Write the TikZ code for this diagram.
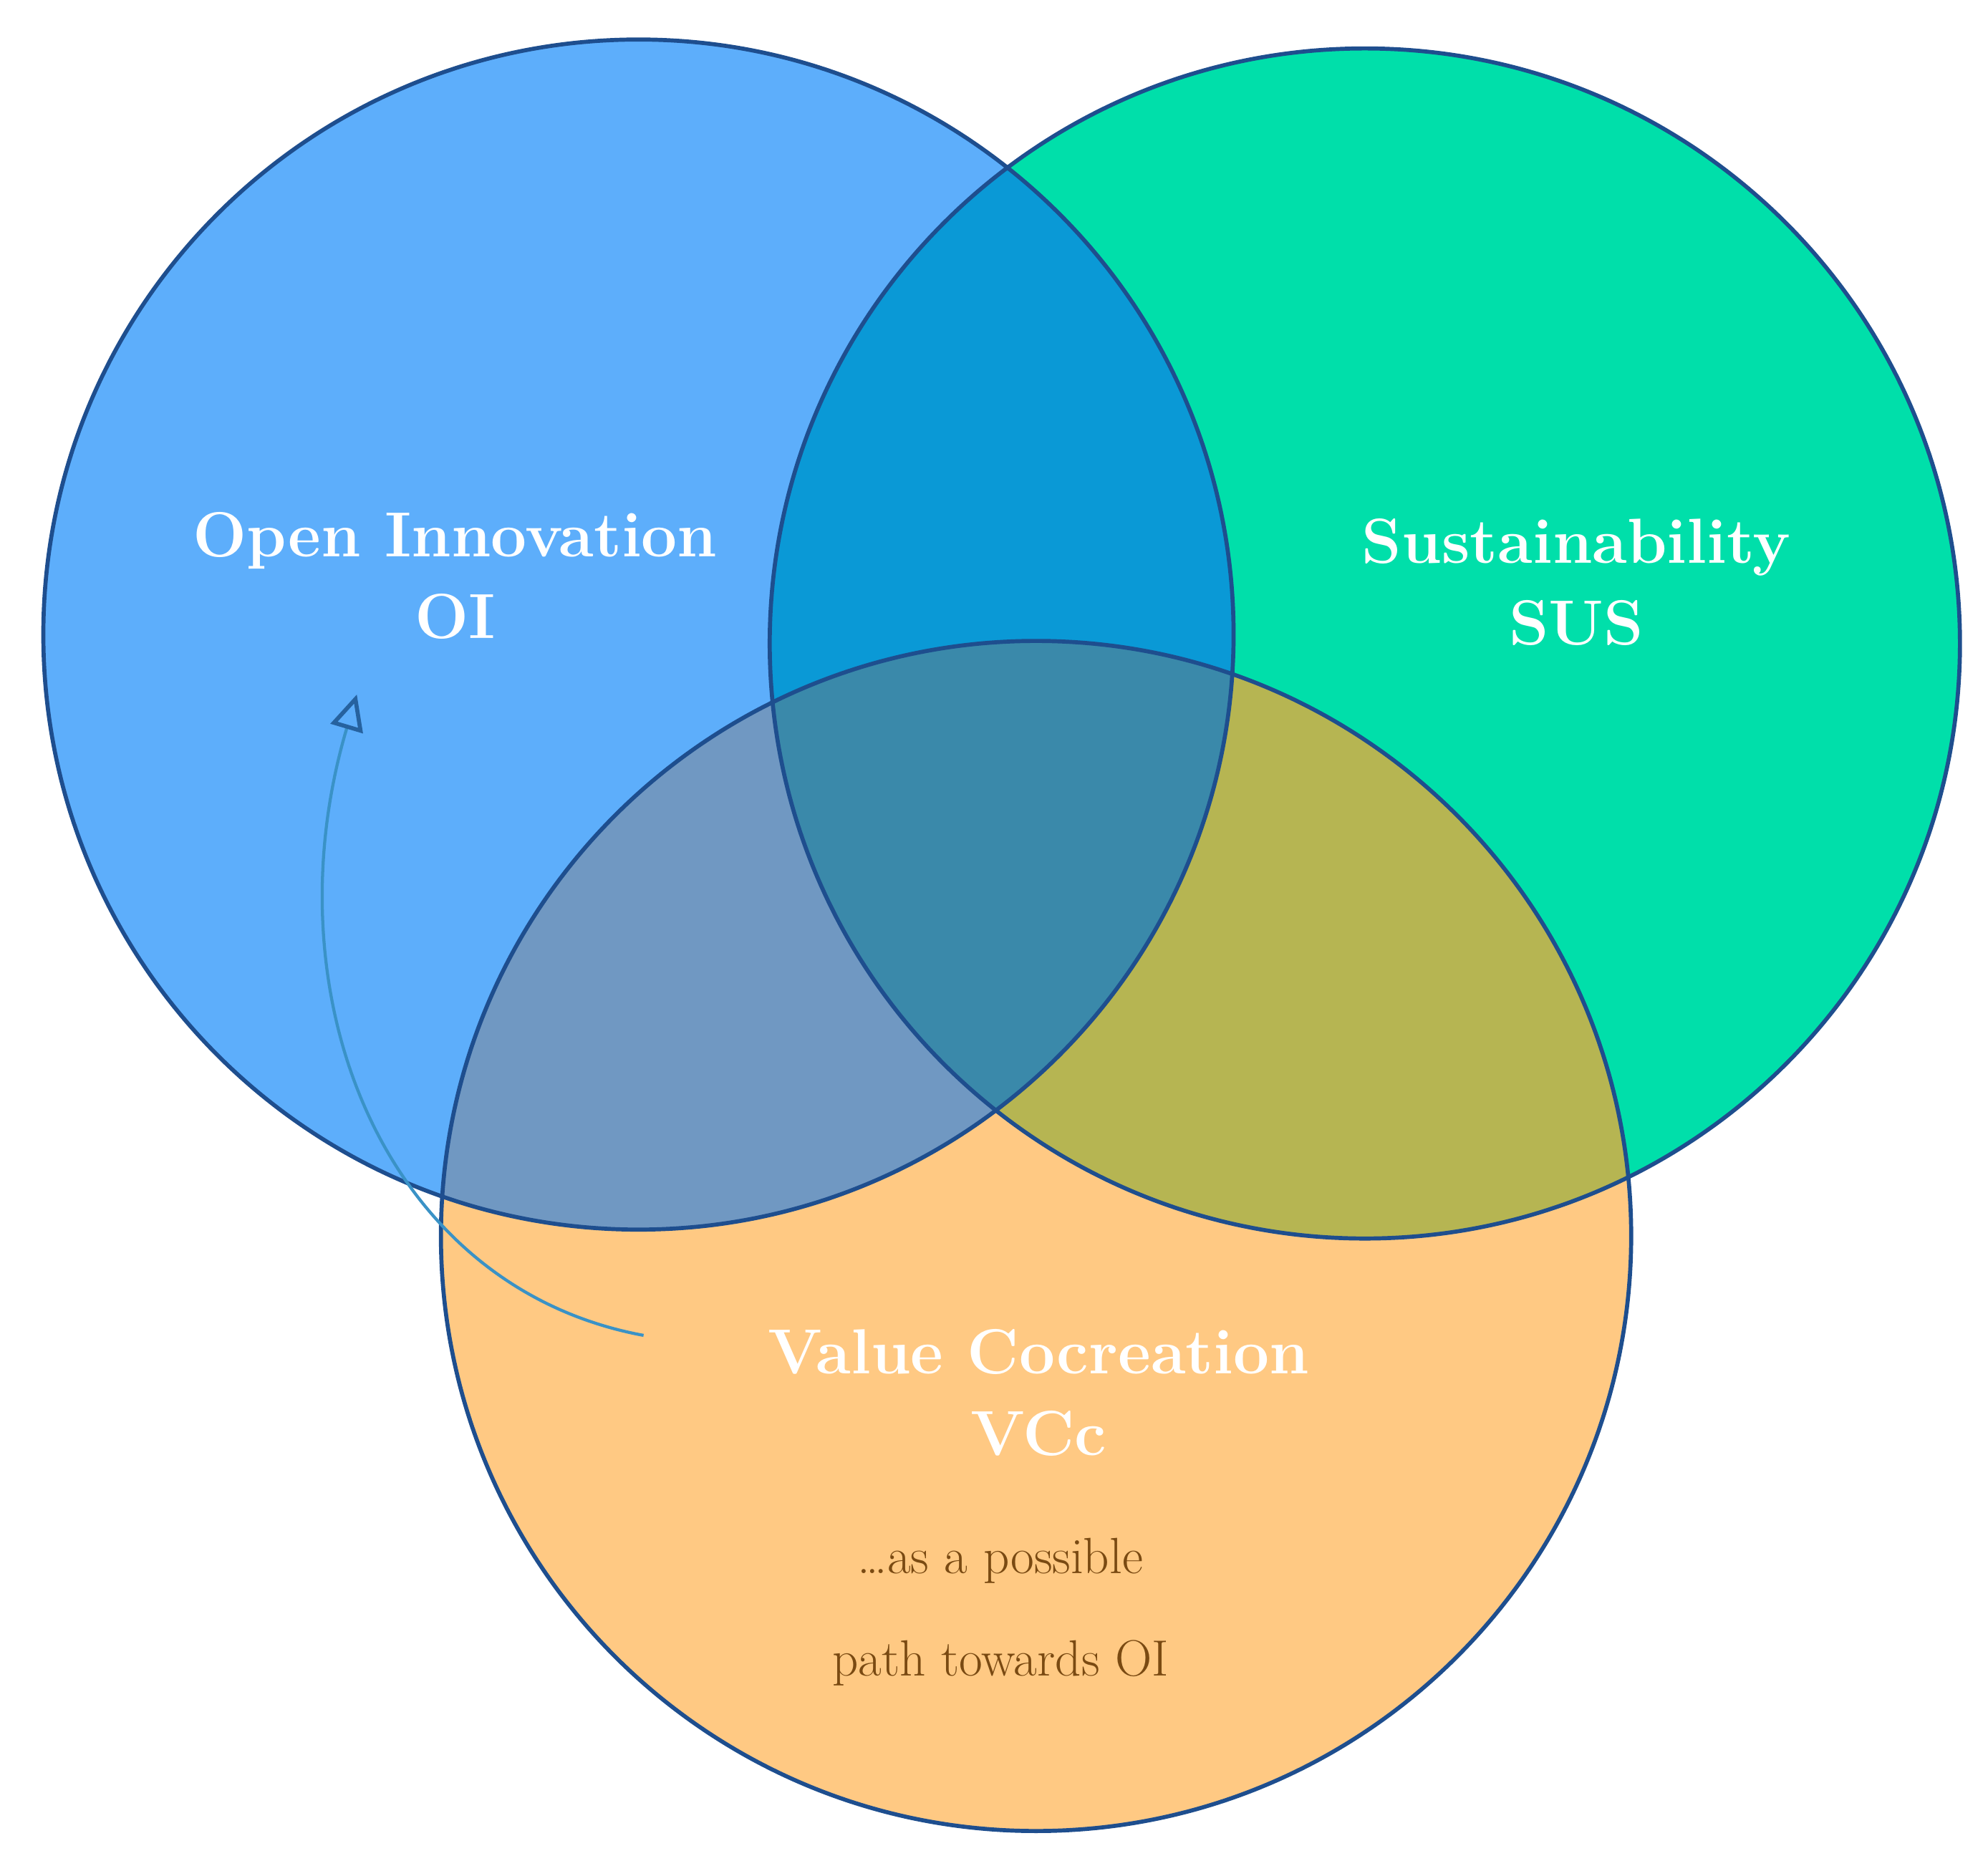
\documentclass[tikz,border=0pt]{standalone}
\usetikzlibrary{arrows.meta}
\definecolor{oiC}{HTML}{5DAEFB}
\definecolor{susC}{HTML}{00DFAA}
\definecolor{vcC}{HTML}{FFC983}
\definecolor{oisus}{HTML}{0A99D6}
\definecolor{oivc}{HTML}{7098C2}
\definecolor{susvc}{HTML}{B6B552}
\definecolor{allC}{HTML}{3A89AA}
\definecolor{edgeC}{HTML}{1E4E8E}
\definecolor{brownC}{HTML}{7A4A12}
\definecolor{arrC}{HTML}{3A92C6}
\tikzset{ring/.style={draw=edgeC,line width=1.6pt},
 title/.style={text=white,font=\fontsize{25}{32}\selectfont\bfseries,align=center},
 sub/.style={text=brownC,font=\fontsize{20}{40}\selectfont,align=center}}
\begin{document}
\begin{tikzpicture}[x=0.5pt,y=-0.5pt]
\useasboundingbox (0,0) rectangle (1560,1464);
\def\ra{467}
\coordinate (A) at (501,498);
\coordinate (B) at (1071,505);
\coordinate (C) at (813,970);
\fill[oiC] (A) circle (\ra);
\fill[susC] (B) circle (\ra);
\fill[vcC] (C) circle (\ra);
\begin{scope}\clip (A) circle (\ra); \fill[oisus] (B) circle (\ra); \fill[oivc] (C) circle (\ra);\end{scope}
\begin{scope}\clip (B) circle (\ra); \fill[susvc] (C) circle (\ra);\end{scope}
\begin{scope}\clip (A) circle (\ra); \clip (B) circle (\ra); \fill[allC] (C) circle (\ra);\end{scope}
\draw[ring] (A) circle (\ra);
\draw[ring] (B) circle (\ra);
\draw[ring] (C) circle (\ra);
\node[title] (oi) at (357,452) {Open Innovation\\OI};
\node[title] (sus) at (1237,457) {Sustainability\\SUS};
\node[title] (vc) at (815,1093) {Value Cocreation\\VCc};
\node[sub] (p) at (785,1265) {\ldots as a possible\\path towards OI};
\coordinate (s) at (505,1048);
\coordinate (t) at (280,545);
\draw[arrC,line width=1.2pt,-{Triangle[open,length=14pt,width=13pt,line width=1.6pt,color=edgeC!70!arrC]}] (s) .. controls (300,1010) and (210,780) .. (t);
\end{tikzpicture}
\end{document}
